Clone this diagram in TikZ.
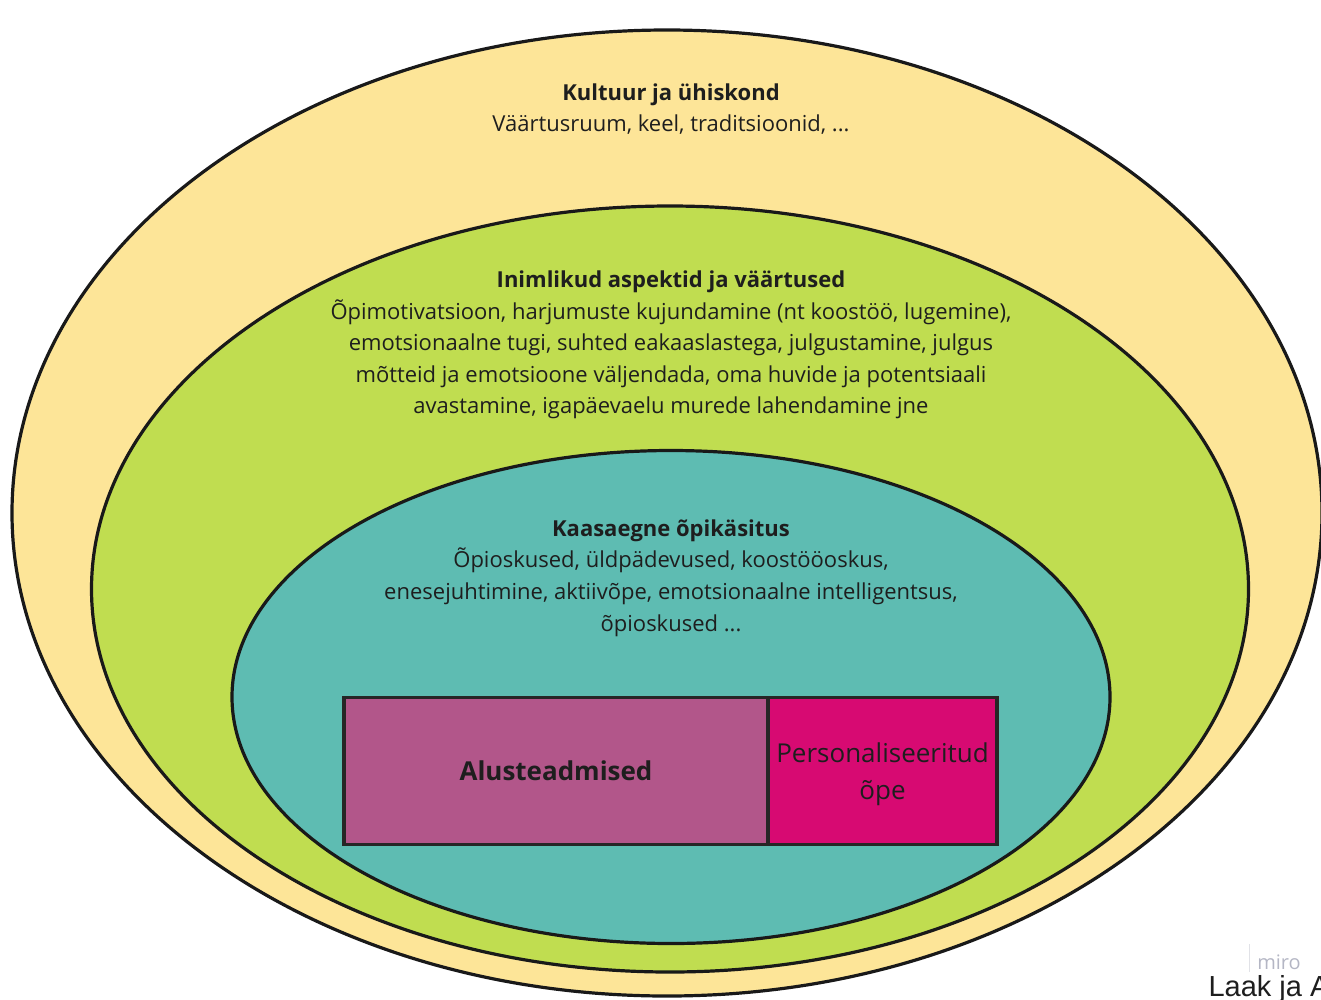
\documentclass[tikz,border=0pt]{standalone}
\usepackage{fontspec}
\setmainfont{Open Sans}
\newfontfamily\arialfont{Liberation Sans}
\usetikzlibrary{positioning,shapes.geometric}

\definecolor{kollane}{RGB}{253,229,152}
\definecolor{roheline}{RGB}{192,221,80}
\definecolor{tiil}{RGB}{94,188,178}
\definecolor{lilla}{RGB}{178,86,138}
\definecolor{roosa}{RGB}{215,10,114}
\definecolor{tekst}{RGB}{30,30,30}
\definecolor{mirohall}{RGB}{180,182,196}

\begin{document}
\begin{tikzpicture}
  [
    x=1pt, y=-1pt,
    every node/.style={text=tekst},
    ring/.style={draw=black!90, line width=3.2pt, ellipse, inner sep=0pt},
    kast/.style={draw=black!85, line width=3.2pt, rectangle, inner sep=0pt,
      outer sep=0pt, minimum height=147pt},
    sisu/.style={align=center, font=\fontsize{22}{31.6}\selectfont}
  ]

  % Platzhalter
  \useasboundingbox (0,0) rectangle (1321,999);

  % ringid
  \node[ring, fill=kollane, minimum width=1310pt, minimum height=966pt] (kultuur) at (667,513) {};
  \node[ring, fill=roheline, minimum width=1157pt, minimum height=766pt] (inimlik) at (670,589) {};
  \node[ring, fill=tiil, minimum width=878pt, minimum height=493pt] (kaasaegne) at (671,697) {};

  % tekstid
  \node[sisu] (kultuurTekst) at (671,109)
    {\textbf{Kultuur ja ühiskond}\\Väärtusruum, keel, traditsioonid, ...};
  \node[sisu] (inimlikTekst) at (671,345)
    {\textbf{Inimlikud aspektid ja väärtused}\\
     Õpimotivatsioon, harjumuste kujundamine (nt koostöö, lugemine),\\
     emotsionaalne tugi, suhted eakaaslastega, julgustamine, julgus\\
     mõtteid ja emotsioone väljendada, oma huvide ja potentsiaali\\
     avastamine, igapäevaelu murede lahendamine jne};
  \node[sisu] (kaasaegneTekst) at (671,578)
    {\textbf{Kaasaegne õpikäsitus}\\
     Õpioskused, üldpädevused, koostööoskus,\\
     enesejuhtimine, aktiivõpe, emotsionaalne intelligentsus,\\
     õpioskused ...};

  % kastid
  \node[kast, fill=lilla, minimum width=424pt, font=\bfseries\fontsize{26}{30}\selectfont]
    (alus) at (556,771) {Alusteadmised};
  \node[kast, fill=roosa, minimum width=229pt, right=0pt of alus, align=center,
    font=\fontsize{26}{37}\selectfont, text depth=0pt] (pers) {Personaliseeritud\\õpe};

  % miro
  \draw[mirohall!40, line width=1pt] (1249,944) coordinate (jooneAlgus) -- (1249,972) coordinate (jooneLopp);
  \node[text=mirohall, font=\fontsize{20}{22}\selectfont] (miro) at (1279,962) {miro};
  \node[anchor=west, font=\arialfont\fontsize{29}{32}\selectfont] (allikas) at (1205,989) {Laak ja A};
\end{tikzpicture}
\end{document}
